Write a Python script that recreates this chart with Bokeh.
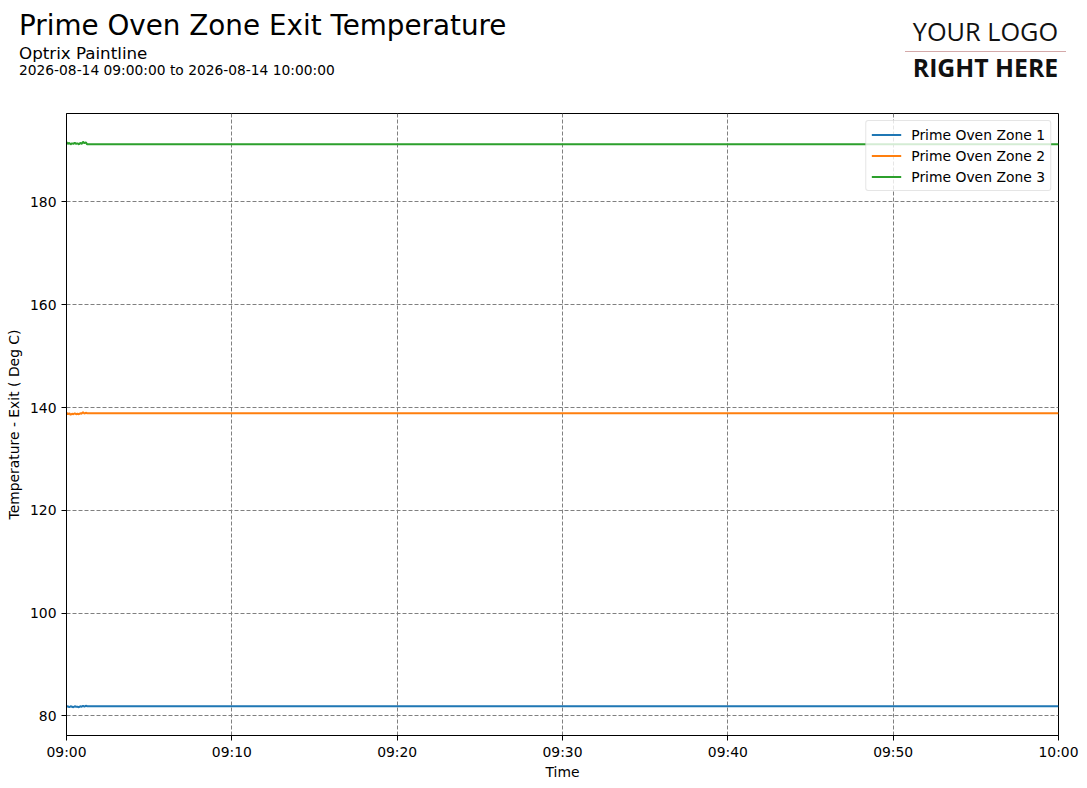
#
# Prime oven zone exit temperatures for one hour
#
from datetime import datetime
from bokeh.plotting import figure
from bokeh.layouts import column
from bokeh.models import Div, Range1d, FixedTicker, DatetimeTickFormatter, Legend, LegendItem
from bokeh.embed import file_html
from bokeh.resources import INLINE

# Sample times (the noisy start, then flat to the end of the hour)
times = ["09:00:00", "09:00:05", "09:00:10", "09:00:15", "09:00:20", "09:00:25",
         "09:00:30", "09:00:35", "09:00:40", "09:00:45", "09:00:50", "09:00:55",
         "09:01:00", "09:01:05", "09:01:10", "09:01:15", "10:00:00"]

# Temperatures per zone (Deg C)
zone1 = [81.8, 81.9, 81.7, 81.9, 81.8, 81.7, 81.9, 81.8, 81.8, 81.7, 81.9, 81.8,
         82.0, 81.8, 82.0, 81.9, 81.9]
zone2 = [139.0, 138.7, 138.9, 138.6, 138.8, 138.7, 138.9, 138.7, 138.8, 138.7, 138.9, 138.8,
         139.1, 138.8, 139.0, 138.9, 138.9]
zone3 = [191.6, 191.3, 191.5, 191.2, 191.4, 191.3, 191.5, 191.3, 191.4, 191.2, 191.5, 191.3,
         191.7, 191.4, 191.6, 191.2, 191.2]

names = ["Prime Oven Zone 1", "Prime Oven Zone 2", "Prime Oven Zone 3"]
colors = ["#1f77b4", "#ff7f0e", "#2ca02c"]

# x tick labels every ten minutes
tick_times = ["09:00", "09:10", "09:20", "09:30", "09:40", "09:50", "10:00"]
y_ticks = [80, 100, 120, 140, 160, 180]

day = "2026-08-14 "
xs = [datetime.strptime(day + t, "%Y-%m-%d %H:%M:%S") for t in times]
tick_ms = [datetime.strptime(day + t, "%Y-%m-%d %H:%M").timestamp() * 1000 for t in tick_times]

# Header with titles and the logo placeholder
header = Div(width=1087, height=105, margin=0, text="""
<div style="position:relative;width:1087px;height:105px;font-family:'DejaVu Sans';color:#000;">
  <div style="position:absolute;left:19px;top:11.5px;font-size:27.8px;line-height:1;white-space:nowrap;">Prime Oven Zone Exit Temperature</div>
  <div style="position:absolute;left:19px;top:45px;font-size:16.7px;line-height:1;white-space:nowrap;">Optrix Paintline</div>
  <div style="position:absolute;left:19px;top:64px;font-size:13.8px;line-height:1;white-space:nowrap;">2026-08-14 09:00:00 to 2026-08-14 10:00:00</div>
  <div style="position:absolute;left:905px;top:19px;width:161px;text-align:center;font-family:'Open Sans';font-size:25.3px;line-height:1;color:#111;white-space:nowrap;">YOUR LOGO</div>
  <div style="position:absolute;left:905px;top:51px;width:161px;height:1px;background:#d4a9a9;"></div>
  <div style="position:absolute;left:905px;top:55px;width:161px;text-align:center;font-family:'Open Sans';font-weight:bold;font-size:24.8px;line-height:1;color:#111;white-space:nowrap;">RIGHT HERE</div>
</div>
""")

# frame is 992 x 622
p = figure(frame_width=992, frame_height=622, x_axis_type="datetime", output_backend="svg",
           toolbar_location=None,
           min_border_left=66, min_border_right=29, min_border_top=8, min_border_bottom=53)
p.x_range = Range1d(xs[0], xs[-1])
p.y_range = Range1d(76.2, 197.2)

renderers = []
for vals, c in zip([zone1, zone2, zone3], colors):
    renderers.append(p.line(xs, vals, line_color=c, line_width=2))

p.xaxis.ticker = FixedTicker(ticks=tick_ms)
p.xaxis.formatter = DatetimeTickFormatter(minutes="%H:%M", hourmin="%H:%M", hours="%H:%M")
p.yaxis.ticker = FixedTicker(ticks=y_ticks)
p.xaxis.axis_label = "Time"
p.yaxis.axis_label = "Temperature - Exit ( Deg C)"

for ax in [p.xaxis[0], p.yaxis[0]]:
    ax.major_label_text_font = "DejaVu Sans"
    ax.major_label_text_font_size = "13.9px"
    ax.major_label_text_color = "black"
    ax.axis_label_text_font = "DejaVu Sans"
    ax.axis_label_text_font_size = "13.9px"
    ax.axis_label_text_font_style = "normal"
    ax.axis_label_text_color = "black"
    ax.major_tick_out = 5
    ax.major_tick_in = 0
    ax.minor_tick_out = 0
    ax.minor_tick_in = 0
    ax.major_tick_line_color = "black"
    ax.axis_line_color = "black"
p.xaxis.major_label_standoff = 3
p.yaxis.major_label_standoff = 5
p.xaxis.axis_label_standoff = 1
p.yaxis.axis_label_standoff = 5

p.outline_line_color = "black"
p.outline_line_width = 1
p.grid.grid_line_color = "#808080"
p.grid.grid_line_dash = "4 2"
p.grid.grid_line_width = 1

legend = Legend(items=[LegendItem(label=n, renderers=[r]) for n, r in zip(names, renderers)],
                location="top_right")
legend.label_text_font = "DejaVu Sans"
legend.label_text_font_size = "13.9px"
legend.label_text_color = "black"
legend.glyph_width = 30
legend.glyph_height = 17
legend.label_height = 17
legend.label_standoff = 10
legend.spacing = 4
legend.padding = 5
legend.margin = 7
legend.border_line_color = "#cccccc"
legend.border_radius = 3
legend.background_fill_alpha = 0.8
p.add_layout(legend)

layout = column(header, p)
open("out.html", "w").write(file_html(layout, INLINE))
